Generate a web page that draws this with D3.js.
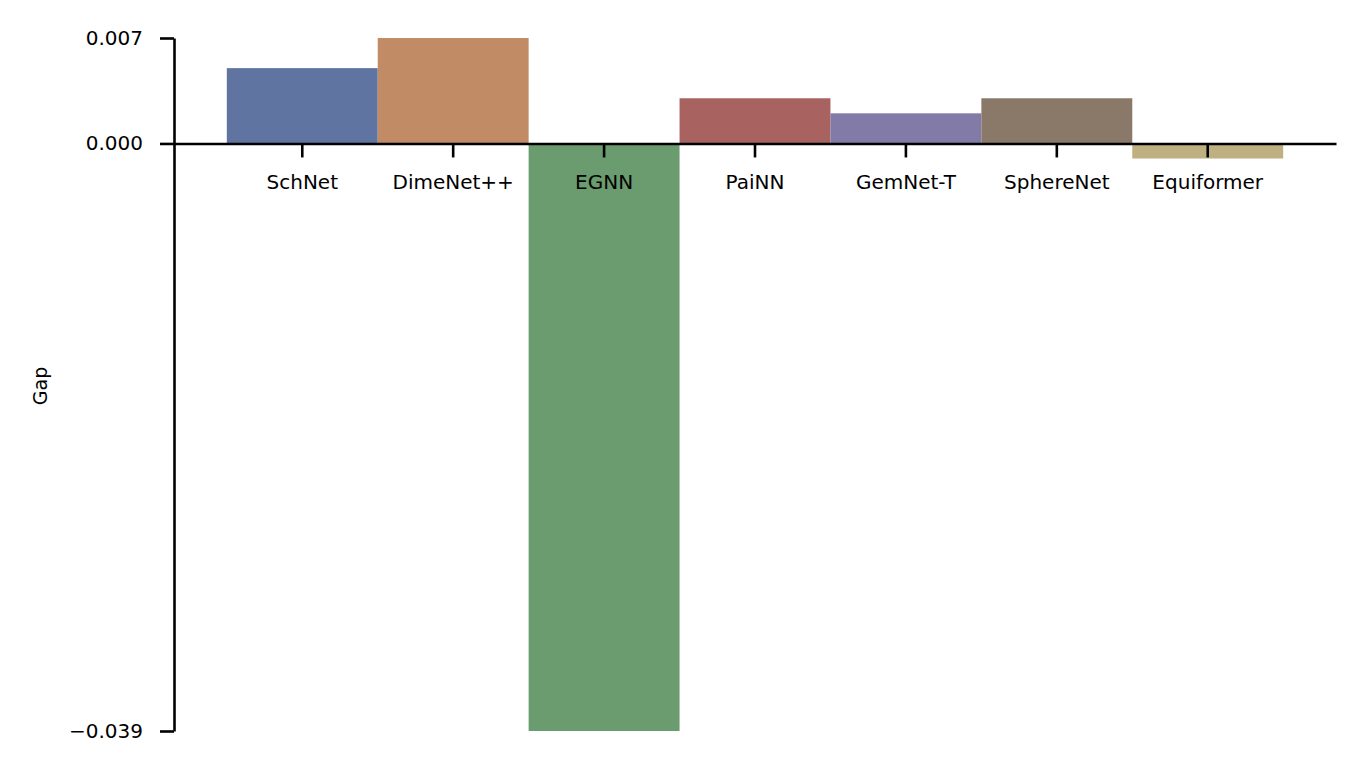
<!DOCTYPE html>
<html>
<head>
<meta charset="utf-8">
<script src="https://cdn.jsdelivr.net/npm/d3@7"></script>
<style>
  html, body { margin: 0; padding: 0; background: #fff; }
  svg { display: block; }
  text { font-family: "DejaVu Sans", sans-serif; fill: #000; }
</style>
</head>
<body>
<svg id="chart" width="1365" height="773"></svg>
<script>
const categories = ["SchNet", "DimeNet++", "EGNN", "PaiNN", "GemNet-T", "SphereNet", "Equiformer"];
const gapValues = [0.005, 0.007, -0.039, 0.003, 0.002, 0.003, -0.001];
const barColors = ["#5f74a0", "#c18b65", "#6a9c6f", "#a86361", "#837ba7", "#8a7968", "#bfb081"];
const yTickValues = [-0.039, 0.000, 0.007];
const yTickLabels = ["\u22120.039", "0.000", "0.007"];
const yLabel = "Gap";

(function () {
const svg = d3.select("#chart");
const plotLeft = 174, plotRight = 1336, plotTop = 38, plotBottom = 731;

const x = d3.scaleBand().domain(categories).range([plotLeft, plotRight]).paddingInner(0).paddingOuter(0.35);
const y = d3.scaleLinear().domain([-0.039, 0.007]).range([plotBottom, plotTop]);

const data = categories.map((c, i) => ({ c, v: gapValues[i], col: barColors[i] }));

svg.append("g").selectAll("rect").data(data).join("rect")
  .attr("x", d => x(d.c))
  .attr("width", x.bandwidth())
  .attr("y", d => Math.min(y(0), y(d.v)))
  .attr("height", d => Math.abs(y(d.v) - y(0)))
  .attr("fill", d => d.col);

// y axis
const yAxis = d3.axisLeft(y).tickValues(yTickValues)
  .tickFormat((d, i) => yTickLabels[i]).tickSize(14).tickPadding(17).tickSizeOuter(0);
const gy = svg.append("g").attr("transform", `translate(${plotLeft},0)`).call(yAxis);
gy.select(".domain").attr("stroke", "#000").attr("stroke-width", 2.6);
gy.selectAll(".tick line").attr("stroke", "#000").attr("stroke-width", 2.6);
gy.selectAll(".tick text").attr("font-size", 20).attr("font-family", "DejaVu Sans");

// x axis at zero
const xAxis = d3.axisBottom(x).tickSize(14).tickPadding(0).tickSizeOuter(0);
const gx = svg.append("g").attr("transform", `translate(0,${y(0)})`).call(xAxis);
gx.select(".domain").attr("stroke", "#000").attr("stroke-width", 2.6);
gx.selectAll(".tick line").attr("stroke", "#000").attr("stroke-width", 2.6);
gx.selectAll(".tick text").attr("font-size", 20).attr("font-family", "DejaVu Sans")
  .attr("dy", null).attr("y", 46);

// y label
svg.append("text")
  .attr("transform", `translate(47,386) rotate(-90)`)
  .attr("text-anchor", "middle")
  .attr("font-size", 19)
  .text(yLabel);
})();
</script>
</body>
</html>
